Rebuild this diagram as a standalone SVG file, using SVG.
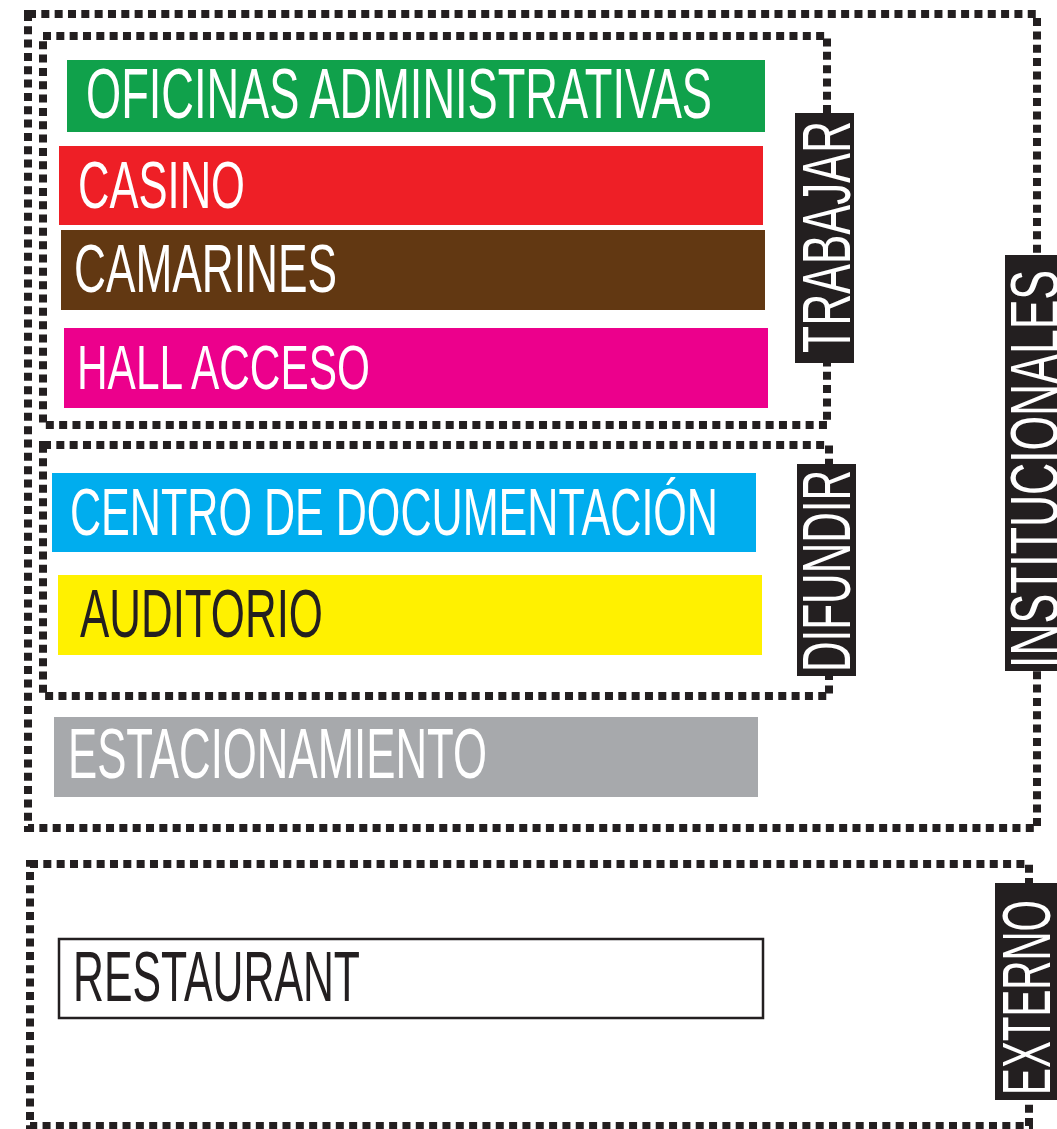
<svg xmlns="http://www.w3.org/2000/svg" width="1057" height="1129" viewBox="0 0 1057 1129">
<style>
.dot{fill:none;stroke:#231f20;stroke-width:8;stroke-dasharray:8 5.33}
.t{font-family:"Liberation Sans Narrow","Liberation Sans",Arial,sans-serif;fill:#fff}
.k{fill:#231f20}
.lab{fill:#231f20}
</style>
<rect width="1057" height="1129" fill="#fff"/>
<g id="connectors">
<rect class="dot" x="28" y="14" width="1009" height="814"/>
<rect class="dot" x="43" y="36" width="784" height="389"/>
<rect class="dot" x="43" y="445" width="786" height="251"/>
<rect class="dot" x="30" y="864" width="999" height="262"/>
</g>
<g id="oficinas">
<rect x="67" y="60" width="698" height="72" fill="#10a14b"/>
<text class="t" x="86" y="118" font-size="71" textLength="626" lengthAdjust="spacingAndGlyphs">OFICINAS ADMINISTRATIVAS</text>
</g>
<g id="casino">
<rect x="59" y="146" width="704" height="79" fill="#ee1f26"/>
<text class="t" x="78" y="208" font-size="67" textLength="167" lengthAdjust="spacingAndGlyphs">CASINO</text>
</g>
<g id="camarines">
<rect x="61" y="230" width="704" height="80" fill="#623812"/>
<text class="t" x="74" y="292" font-size="68" textLength="263" lengthAdjust="spacingAndGlyphs">CAMARINES</text>
</g>
<g id="hall">
<rect x="64" y="328" width="704" height="80" fill="#ec008c"/>
<text class="t" x="77" y="389" font-size="63" textLength="293" lengthAdjust="spacingAndGlyphs">HALL ACCESO</text>
</g>
<g id="centro">
<rect x="52" y="473" width="704" height="79" fill="#00adee"/>
<text class="t" x="70" y="535" font-size="67" textLength="648" lengthAdjust="spacingAndGlyphs">CENTRO DE DOCUMENTACIÓN</text>
</g>
<g id="auditorio">
<rect x="58" y="575" width="704" height="80" fill="#fff100"/>
<text class="t k" x="80" y="637" font-size="68" textLength="243" lengthAdjust="spacingAndGlyphs">AUDITORIO</text>
</g>
<g id="estacionamiento">
<rect x="54" y="717" width="704" height="80" fill="#a7a9ac"/>
<text class="t" x="68" y="778" font-size="70" textLength="419" lengthAdjust="spacingAndGlyphs">ESTACIONAMIENTO</text>
</g>
<g id="restaurant">
<rect x="59" y="939" width="704" height="79" fill="#fff" stroke="#231f20" stroke-width="2.5"/>
<text class="t k" x="73" y="1001" font-size="70" textLength="287" lengthAdjust="spacingAndGlyphs">RESTAURANT</text>
</g>
<g id="trabajar">
<rect class="lab" x="795" y="113" width="59" height="250"/>
<text class="t" transform="translate(850,353) rotate(-90)" x="0" y="0" font-size="68" textLength="232" lengthAdjust="spacingAndGlyphs">TRABAJAR</text>
</g>
<g id="difundir">
<rect class="lab" x="797" y="464" width="59" height="212"/>
<text class="t" transform="translate(850,672) rotate(-90)" x="0" y="0" font-size="68" textLength="202" lengthAdjust="spacingAndGlyphs">DIFUNDIR</text>
</g>
<g id="institucionales">
<rect class="lab" x="1005" y="255" width="52" height="416"/>
<text class="t" transform="translate(1058,668) rotate(-90)" x="0" y="0" font-size="68" textLength="398" lengthAdjust="spacingAndGlyphs">INSTITUCIONALES</text>
</g>
<g id="externo">
<rect class="lab" x="995" y="883" width="62" height="217"/>
<text class="t" transform="translate(1050,1095) rotate(-90)" x="0" y="0" font-size="68" textLength="195" lengthAdjust="spacingAndGlyphs">EXTERNO</text>
</g>
</svg>
